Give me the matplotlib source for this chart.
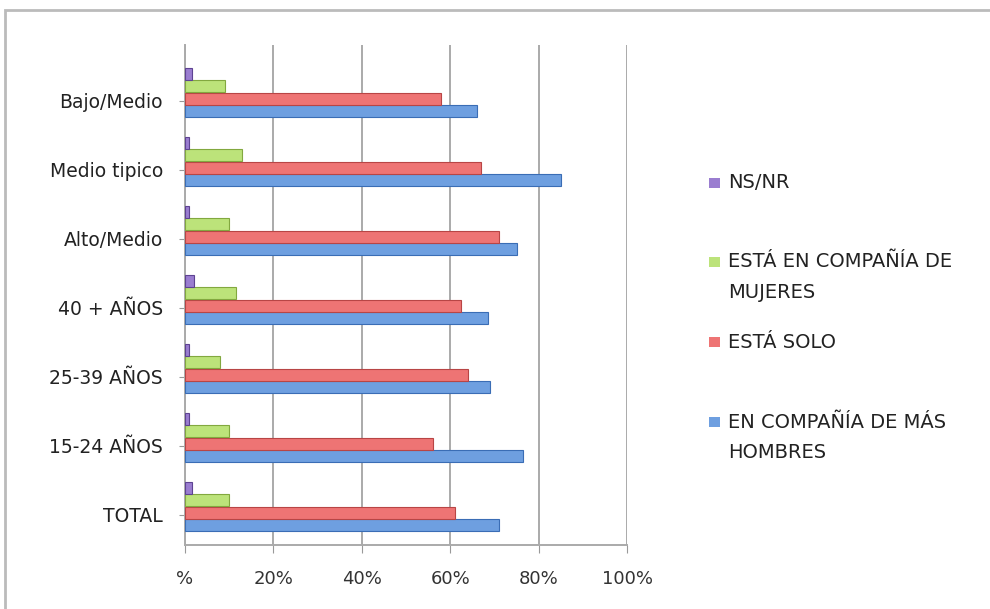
import numpy as np
import matplotlib
matplotlib.use("Agg")
import matplotlib.pyplot as plt
import matplotlib.patches as patches

# datos (de abajo hacia arriba)
categorias = ['TOTAL', '15-24 AÑOS', '25-39 AÑOS', '40 + AÑOS',
              'Alto/Medio', 'Medio tipico', 'Bajo/Medio']
hombres = [71, 76.5, 69, 68.5, 75, 85, 66]
solo = [61, 56, 64, 62.5, 71, 67, 58]
mujeres = [10, 10, 8, 11.5, 10, 13, 9]
nsnr = [1.5, 1, 1, 2, 1, 1, 1.5]

series = [
    (['EN COMPAÑÍA DE MÁS', 'HOMBRES'], hombres, '#6E9FE0', '#3A6DB5'),
    (['ESTÁ SOLO'], solo, '#EE7474', '#B84545'),
    (['ESTÁ EN COMPAÑÍA DE', 'MUJERES'], mujeres, '#BCE37A', '#82A83F'),
    (['NS/NR'], nsnr, '#9A7DD0', '#5E4392'),
]
xticks = [0, 20, 40, 60, 80, 100]
xtick_labels = ['%', '20%', '40%', '60%', '80%', '100%']

fig = plt.figure(figsize=(9.9, 6.09), dpi=100)
ax = fig.add_axes([185 / 990, 64 / 609, 442 / 990, 500 / 609])

y = np.arange(len(categorias))
paso = 0.18
alto = 0.175
for i, (nombre, vals, color, borde) in enumerate(series):
    off = (i - 1.5) * paso
    ax.barh(y + off, vals, height=alto, color=color, edgecolor=borde,
            linewidth=0.8, zorder=3)

ax.set_xlim(0, 100)
ax.set_ylim(-0.56, 6.69)
ax.set_xticks(xticks)
ax.set_xticklabels(xtick_labels, fontsize=13, color='#333333')
ax.set_yticks(y - 0.12)
ax.set_yticklabels(categorias, fontsize=13.5, color='#222222')
ax.tick_params(axis='y', length=4, color='#999999', pad=12)
ax.tick_params(axis='x', length=6, color='#999999', pad=12)
ax.grid(axis='x', color='#AAAAAA', linewidth=1.4, zorder=0)
for s in ['top', 'right']:
    ax.spines[s].set_visible(False)
for s in ['left', 'bottom']:
    ax.spines[s].set_color('#AAAAAA')
    ax.spines[s].set_linewidth(1.4)

# marco exterior
fig.patches.append(patches.Rectangle((5 / 990, -0.01), 1.0, (609 - 10) / 609 + 0.01,
                                     transform=fig.transFigure, fill=False,
                                     edgecolor='#BBBBBB', linewidth=2))

# leyenda manual
ley_y = [422, 342, 262, 183]
for (lineas, vals, color, borde), py in zip(series, ley_y):
    fig.patches.append(patches.Rectangle((709 / 990, 1 - (py + 5) / 609), 11 / 990, 10 / 609,
                                         transform=fig.transFigure, facecolor=color,
                                         edgecolor='none'))
    for k, txt in enumerate(lineas):
        fig.text(728 / 990, 1 - (py + 30 * k) / 609, txt, fontsize=14,
                 color='#222222', va='center', ha='left')

fig.savefig('out.png', dpi=100)
